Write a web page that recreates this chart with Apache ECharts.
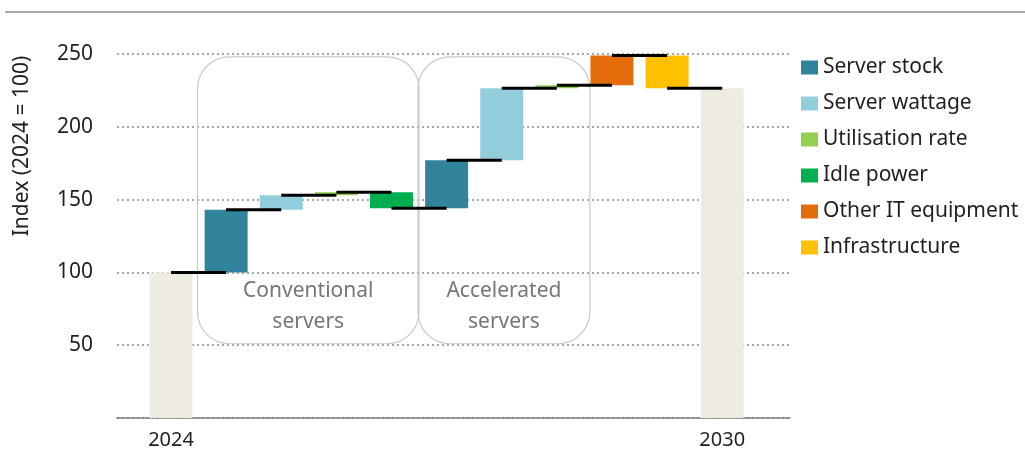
<!DOCTYPE html>
<html>
<head>
<meta charset="utf-8">
<script src="https://cdn.jsdelivr.net/npm/echarts@6/dist/echarts.min.js"></script>
<style>
  html, body { margin: 0; padding: 0; background: #fff; }
  #chart { width: 1025px; height: 450px; }
</style>
</head>
<body>
<div id="chart"></div>
<script>
// steps of the waterfall, left to right
const steps = ['2024', 'Server stock', 'Server wattage', 'Utilisation rate', 'Idle power',
  'Server stock', 'Server wattage', 'Utilisation rate', 'Other IT equipment', 'Infrastructure', '2030'];
// index level after each step
const levels = [100, 143, 153, 155, 144, 177, 226.5, 228.5, 249, 226.5, 226.5];
const totalSteps = ['2024', '2030'];
const yTicks = [0, 50, 100, 150, 200, 250];

const legendNames = ['Server stock', 'Server wattage', 'Utilisation rate', 'Idle power', 'Other IT equipment', 'Infrastructure'];
const colors = {
  'Server stock': '#31849B',
  'Server wattage': '#92CDDC',
  'Utilisation rate': '#92D050',
  'Idle power': '#00B050',
  'Other IT equipment': '#E46C0A',
  'Infrastructure': '#FFC000',
  'Total': '#EEECE1'
};

// group boxes: [x from, x to, y from, y to, label]
const groups = [
  [0.48, 4.5, 51, 248, 'Conventional\nservers'],
  [4.48, 7.6, 51, 248, 'Accelerated\nservers']
];

const FONT = '"Noto Sans", sans-serif';
const TEXT = '#1f1f1f';

// floating bar [x, from, to] per series
function barData(name) {
  const out = [];
  steps.forEach((s, i) => {
    if (totalSteps.includes(s)) {
      if (name === 'Total') out.push([i, 0, levels[i]]);
    } else if (s === name) {
      out.push([i, levels[i - 1], levels[i]]);
    }
  });
  return out;
}

function renderBar(params, api) {
  const x = api.value(0);
  const a = api.coord([x, api.value(1)]);
  const b = api.coord([x, api.value(2)]);
  const w = api.size([1, 0])[0] * 0.78;
  return {
    type: 'rect',
    shape: { x: a[0] - w / 2, y: Math.min(a[1], b[1]), width: w, height: Math.abs(a[1] - b[1]) },
    style: { fill: api.visual('color') }
  };
}

// connectors between neighbouring bars
const connectors = [];
for (let i = 0; i < steps.length - 1; i++) connectors.push([i, i + 1, levels[i]]);

function renderConnector(params, api) {
  const a = api.coord([api.value(0), api.value(2)]);
  const b = api.coord([api.value(1), api.value(2)]);
  return {
    type: 'line',
    shape: { x1: a[0], y1: a[1], x2: b[0], y2: b[1] },
    style: { stroke: '#000', lineWidth: 3 }
  };
}

function renderGroup(params, api) {
  const g = groups[params.dataIndex];
  const p0 = api.coord([g[0], g[3]]);
  const p1 = api.coord([g[1], g[2]]);
  return {
    type: 'group',
    children: [
      {
        type: 'rect',
        shape: { x: p0[0], y: p0[1], width: p1[0] - p0[0], height: p1[1] - p0[1], r: 32 },
        style: { fill: 'none', stroke: '#c8c8c8', lineWidth: 1.2 }
      },
      {
        type: 'text',
        style: {
          text: g[4], x: (p0[0] + p1[0]) / 2, y: p1[1] - 37,
          align: 'center', verticalAlign: 'middle',
          font: '21px ' + FONT, fill: '#767676', lineHeight: 31
        }
      }
    ]
  };
}

const chart = echarts.init(document.getElementById('chart'));

const series = [{
  type: 'custom',
  name: 'groups',
  silent: true,
  z: 1,
  renderItem: renderGroup,
  encode: { x: [0, 1], y: [2, 3] },
  data: groups.map(g => [g[0], g[1], g[2], g[3]])
}];

['Total'].concat(legendNames).forEach(name => {
  series.push({
    type: 'custom',
    name: name,
    z: 2,
    itemStyle: { color: colors[name] },
    renderItem: renderBar,
    encode: { x: 0, y: [1, 2] },
    data: barData(name)
  });
});

series.push({
  type: 'custom',
  name: 'connectors',
  z: 3,
  silent: true,
  renderItem: renderConnector,
  encode: { x: [0, 1], y: 2 },
  data: connectors
});

chart.setOption({
  animation: false,
  textStyle: { fontFamily: FONT },
  graphic: [
    {
      type: 'line',
      shape: { x1: 5, y1: 12, x2: 1025, y2: 12 },
      style: { stroke: '#8c8c8c', lineWidth: 1.5 }
    },
    {
      type: 'text',
      x: 22, y: 146, rotation: Math.PI / 2,
      style: {
        text: 'Index (2024 = 100)', align: 'center', verticalAlign: 'middle',
        font: '21px ' + FONT, fill: TEXT
      }
    }
  ],
  legend: {
    data: legendNames,
    orient: 'vertical',
    left: 801,
    top: 57,
    padding: 0,
    itemWidth: 17,
    itemHeight: 14,
    itemGap: 15,
    icon: 'rect',
    selectedMode: false,
    textStyle: { fontSize: 21, color: TEXT, fontFamily: FONT, lineHeight: 20 }
  },
  grid: { left: 117, right: 235, top: 54, bottom: 31 },
  xAxis: {
    type: 'value',
    min: -0.98,
    max: 11.23,
    splitLine: { show: false },
    axisTick: { show: false },
    axisLine: { show: true, lineStyle: { color: '#7f7f7f', width: 1.5 } },
    axisLabel: {
      customValues: totalSteps.map(s => steps.indexOf(s)),
      formatter: v => steps[Math.round(v)],
      fontSize: 20,
      color: TEXT,
      margin: 12
    }
  },
  yAxis: {
    type: 'value',
    min: yTicks[0],
    max: yTicks[yTicks.length - 1],
    interval: 50,
    axisLine: { show: false },
    axisTick: { show: false },
    axisLabel: {
      showMinLabel: false,
      fontSize: 21,
      color: TEXT,
      margin: 24
    },
    splitLine: { lineStyle: { color: '#a6a6a6', width: 2, type: [2, 3] } }
  },
  series: series
});
</script>
</body>
</html>
